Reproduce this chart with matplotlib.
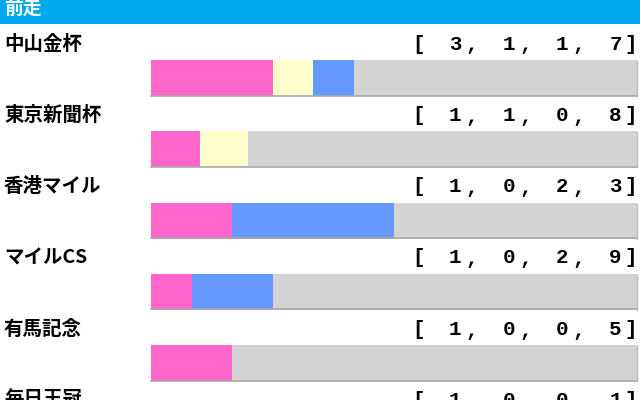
import matplotlib.pyplot as plt
from matplotlib.patches import Rectangle

plt.rcParams['font.family'] = ['Noto Sans CJK JP', 'DejaVu Sans']

# -------------------------
# DATA
# -------------------------
races = ['中山金杯', '東京新聞杯', '香港マイル', 'マイルCS', '有馬記念', '毎日王冠']
first = [3, 1, 1, 1, 1, 1]
second = [1, 1, 0, 0, 0, 0]
third = [1, 0, 2, 2, 0, 0]
other = [7, 8, 3, 9, 5, 1]
header = '前走'

colors = ['#FF66CC', '#FFFFCC', '#6699FF', '#D3D3D3']

# -------------------------
# FIGURE (pixel coordinates)
# -------------------------
fig = plt.figure(figsize=(6.4, 4), dpi=100)
ax = fig.add_axes([0, 0, 1, 1])
ax.set_xlim(0, 640)
ax.set_ylim(400, 0)
ax.axis('off')

# header bar
ax.add_patch(Rectangle((0, 0), 640, 23.5, color='#00A9EC', lw=0))
ax.text(4, 8, header, color='white', fontsize=13.5, fontweight='bold', va='center')

bar_x0, bar_x1 = 151, 637
pitch = 71.3
mono = dict(family='Liberation Mono', fontsize=15, fontweight='bold', va='center')
for i, name in enumerate(races):
    y_label = 44 + i * pitch
    y_bar = 78 + i * pitch
    ax.text(4, y_label, name, fontsize=14, fontweight='bold', va='center')

    vals = [first[i], second[i], third[i], other[i]]
    # bracket record text
    ax.text(412, y_label, '[', ha='left', **mono)
    for j, v in enumerate(vals):
        ax.text(455 + j * 53.5, y_label, str(v), ha='center', **mono)
        if j < 3:
            ax.text(472 + j * 53.5, y_label + 1, ',', ha='center', **mono)
    ax.text(637, y_label, ']', ha='right', **mono)

    # stacked bar
    total = sum(vals)
    scale = (bar_x1 - bar_x0) / total
    left = bar_x0
    for v, c in zip(vals, colors):
        if v > 0:
            ax.barh(y_bar, v * scale, left=left, height=36, color=c, lw=0)
        left += v * scale
    # shadow edge
    ax.plot([bar_x0, bar_x1], [y_bar + 17.5, y_bar + 17.5], color='#A8A8A8', lw=1.2)
    ax.plot([bar_x1, bar_x1], [y_bar - 17, y_bar + 18], color='#B8B8B8', lw=1)

fig.savefig('out.png', dpi=100)
